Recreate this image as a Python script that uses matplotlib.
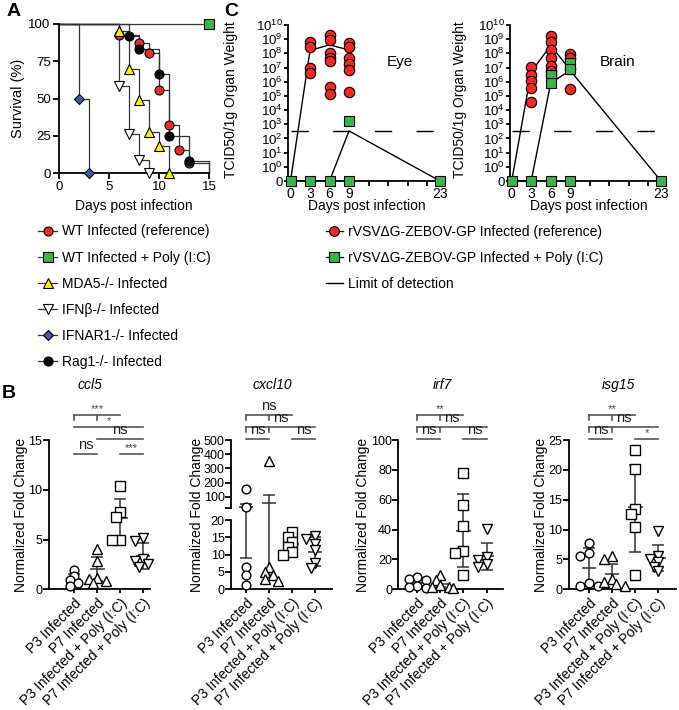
# Figure recreation: survival (A), chemokine qPCR (B), viral titres (C)
import numpy as np
import matplotlib
matplotlib.use("Agg")
import matplotlib.pyplot as plt
from matplotlib.lines import Line2D
from matplotlib.transforms import blended_transform_factory

plt.rcParams['font.family'] = ['Liberation Sans', 'DejaVu Sans']
plt.rcParams['mathtext.fontset'] = 'custom'
plt.rcParams['mathtext.rm'] = 'Liberation Sans'
plt.rcParams['mathtext.it'] = 'Liberation Sans:italic'
plt.rcParams['axes.linewidth'] = 1.3
plt.rcParams['xtick.major.width'] = 1.3
plt.rcParams['ytick.major.width'] = 1.3
plt.rcParams['xtick.major.size'] = 4
plt.rcParams['ytick.major.size'] = 4

# ---------------- A: survival ----------------
surv_labels = ['WT Infected (reference)', 'WT Infected + Poly (I:C)', 'MDA5-/- Infected',
               'IFN\u03b2-/- Infected', 'IFNAR1-/- Infected', 'Rag1-/- Infected']
wt_days = [6, 8, 9, 10, 11, 12, 13]
wt_surv = [92.9, 87.5, 80.4, 55.4, 32.4, 15.6, 6.7]
polyic_days = [15]
polyic_surv = [100]
mda5_days = [6, 7, 8, 9, 10, 11]
mda5_surv = [95.5, 70, 49, 27.5, 18, 0]
ifnb_days = [6, 7, 8, 9]
ifnb_surv = [58.5, 26, 9, 0]
ifnar_days = [2, 3]
ifnar_surv = [50, 0]
rag1_days = [7, 8, 10, 11, 13]
rag1_surv = [92, 83.3, 66.7, 25, 8.3]

# ---------------- C: titres (TCID50 / g), 0 = below detection ----------------
titre_days = [0, 3, 6, 9, 23]
eye_ref = {3: [6.3e8, 2.7e8, 1.0e7, 4.3e6],
           6: [1.9e9, 9.0e8, 1.0e8, 4.6e7, 3.0e7, 4.0e5, 1.3e5],
           9: [5.6e8, 2.7e8, 4.6e7, 1.7e7, 6.6e6, 1.8e5]}
eye_ref_line = [0, 1.6e8, 4.0e8, 1.7e8]
eye_pic = {0: [0], 3: [0], 6: [0], 9: [1.6e3, 0], 23: [0]}
eye_pic_line = [0, 0, 0, 3.4e2, 0]
brain_ref = {3: [1.15e7, 2.9e6, 1.05e6, 3.9e5, 3.8e4],
             6: [1.6e9, 6.3e8, 1.6e8, 4.6e7, 1.26e7, 5.6e6, 2.9e6],
             9: [8.9e7, 4.6e7, 7.4e6, 3.2e5]}
brain_ref_line = [0, 5.0e6, 3.5e8, 7.0e6]
brain_pic = {0: [0], 3: [0], 6: [2.9e6, 8.0e5, 0], 9: [2.0e7, 7.4e6, 0], 23: [0]}
brain_pic_line = [0, 0, 8.0e5, 6.3e6, 0]
limit_of_detection = 3.2e2

# ---------------- B: normalized fold change ----------------
b_groups = ['P3 Infected', 'P7 Infected', 'P3 Infected + Poly (I:C)', 'P7 Infected + Poly (I:C)']
ccl5 = [[1.9, 1.3, 0.9, 0.6, 0.3], [4.0, 2.8, 1.1, 1.0, 0.8, 0.6],
        [10.4, 7.8, 7.3, 4.95, 4.95], [5.2, 4.9, 3.0, 2.8, 2.5, 2.2]]
ccl5_mean = [1.0, 2.0, 7.2, 3.35]
ccl5_lo = [0.5, 0.8, 5.3, 2.0]
ccl5_hi = [1.5, 3.2, 9.1, 4.7]
cxcl10 = [[153, 31, 6.5, 4.0, 1.3], [352, 6.5, 5.0, 4.0, 3.0, 2.5],
          [16.5, 15.2, 13.7, 12.3, 10.8, 10.0], [15.5, 14.5, 13.0, 11.3, 7.7, 6.1]]
cxcl10_mean = [31, 60, 13.0, 10.8]
cxcl10_lo = [9.0, 4.0, 10.8, 6.8]
cxcl10_hi = [50, 115, 15.3, 15.0]
irf7 = [[8.0, 7.0, 6.5, 2.0, 1.5, 0.8], [9.5, 6.0, 3.0, 1.8, 1.5, 1.0],
        [77.7, 56.5, 42.4, 25.9, 24.1, 9.6], [40.2, 21.8, 19.6, 17.0, 15.1]]
irf7_mean = [4.0, 3.5, 39.0, 22.3]
irf7_lo = [2.0, 1.5, 15.0, 13.0]
irf7_hi = [6.0, 6.0, 63.5, 31.2]
isg15 = [[7.7, 6.0, 5.6, 1.0, 0.6, 0.5], [5.5, 5.0, 1.8, 1.2, 0.9, 0.6],
         [23.3, 20.2, 13.4, 12.6, 10.4, 2.4], [9.8, 5.5, 5.0, 4.5, 3.8, 3.0]]
isg15_mean = [3.5, 2.5, 13.7, 5.2]
isg15_lo = [0.5, 0.9, 6.3, 3.0]
isg15_hi = [6.9, 4.2, 20.8, 7.5]
# significance: (group i, group j, level, label, small down-ticks)
ccl5_sig = [(0, 2, 0, '***', True), (0, 3, 1, '*', False), (1, 3, 2, 'ns', False),
            (0, 1, 3, 'ns', False), (2, 3, 3, '***', False)]
cxcl10_sig = [(0, 2, 0, 'ns', True), (0, 3, 1, 'ns', True), (0, 1, 2, 'ns', False), (2, 3, 2, 'ns', False)]
irf7_sig = [(0, 2, 0, '**', True), (0, 3, 1, 'ns', True), (0, 1, 2, 'ns', False), (2, 3, 2, 'ns', False)]
isg15_sig = [(0, 2, 0, '**', True), (0, 3, 1, 'ns', True), (0, 1, 2, 'ns', False), (2, 3, 2, '*', False)]

RED, GREEN, YELLOW, BLUE = '#EE2A24', '#3AB54A', '#FFF200', '#3B5BA9'
LINE = '#333333'
W, H = 679, 710
fig = plt.figure(figsize=(W / 100, H / 100), dpi=100)


def px_axes(l, t, r, b):
    ax = fig.add_axes([l / W, 1 - b / H, (r - l) / W, (b - t) / H])
    ax.spines[['top', 'right']].set_visible(False)
    ax.patch.set_alpha(0)
    return ax


def ftext(x, y, s, **kw):
    fig.text(x / W, 1 - y / H, s, **kw)


# ================= Panel A =================
axA = px_axes(59, 24, 209, 173)
km = [(wt_days, wt_surv, 'o', RED, 6.5, True),
      (polyic_days, polyic_surv, 's', GREEN, 6.5, False),
      (mda5_days, mda5_surv, '^', YELLOW, 7, False),
      (ifnb_days, ifnb_surv, 'v', 'white', 7, False),
      (ifnar_days, ifnar_surv, 'D', BLUE, 5, False),
      (rag1_days, rag1_surv, 'o', 'black', 6.5, True)]
handlesA = []
for days, surv, mk, col, ms, drop_end in km:
    xs = [0] + list(days)
    ys = [100] + list(surv)
    if drop_end:
        xs, ys = xs + [15], ys + [0]
    axA.plot(xs, ys, drawstyle='steps-post', color=LINE, lw=0.9, zorder=2, clip_on=False)
    axA.plot(days, surv, ls='none', marker=mk, ms=ms, mfc=col, mec='black', mew=0.8,
             zorder=4, clip_on=False)
    handlesA.append(Line2D([], [], color=LINE, lw=0.9, marker=mk, ms=ms, mfc=col,
                           mec='black', mew=0.8))
axA.set_xlim(0, 15)
axA.set_ylim(0, 100)
axA.set_xticks([0, 5, 10, 15])
axA.set_yticks([0, 25, 50, 75, 100])
axA.tick_params(labelsize=9.5, pad=2)
ftext(18, 98, 'Survival (%)', rotation=90, ha='center', va='center', fontsize=10.5)
ftext(134, 206, 'Days post infection', ha='center', va='center', fontsize=10)
ftext(14, 12, 'A', fontsize=14, fontweight='bold', ha='center', va='center')
fig.legend(handlesA, surv_labels, loc='upper left', bbox_to_anchor=(38 / W, 1 - 224.5 / H),
           frameon=False, fontsize=10, handlelength=1.4, handletextpad=0.3,
           labelspacing=0.87, borderpad=0, borderaxespad=0)


# ================= Panel C =================
def titre_fwd(v):
    v = np.asarray(v, dtype=float)
    return np.where(v > 0, np.log10(np.where(v > 0, v, 1.0)), -1.0)


def titre_inv(y):
    return 10.0 ** np.asarray(y, dtype=float)


def titre_panel(l, r, ref, ref_line, pic, pic_line, name, name_x, ylab_x):
    ax = px_axes(l, 25, r, 181)
    ax.set_yscale('function', functions=(titre_fwd, titre_inv))
    left_day = -(2.5 if l < 400 else 1.7) / 6.49
    ax.set_xlim(left_day, 23)
    ax.set_ylim(10 ** -1.3, 1e10)
    ax.plot(titre_days[:len(ref_line)], ref_line, color='black', lw=1, zorder=2)
    ax.plot(titre_days, pic_line, color='black', lw=1, zorder=2)
    ax.plot([0, 23], [limit_of_detection] * 2, color='black', lw=1,
            dashes=(12.5, 17.5), zorder=1)
    for d, vals in ref.items():
        ax.plot([d] * len(vals), vals, ls='none', marker='o', ms=7.5, mfc=RED,
                mec='black', mew=0.8, zorder=3, clip_on=False)
    for d, vals in pic.items():
        ax.plot([d] * len(vals), vals, ls='none', marker='s', ms=7, mfc=GREEN,
                mec='black', mew=0.8, zorder=4, clip_on=False)
    yt = [0] + [10 ** k for k in range(11)]
    ax.set_yticks(yt)
    ax.set_yticklabels(['0'] + ['$10^{%d}$' % k for k in range(11)])
    ax.yaxis.set_minor_locator(matplotlib.ticker.NullLocator())
    ax.set_xticks([0, 3, 6, 9, 12, 15, 18, 21, 23])
    ax.set_xticklabels(['0', '3', '6', '9', '', '', '', '', '23'])
    ax.tick_params(axis='y', labelsize=9.5, pad=1, length=3)
    ax.tick_params(axis='x', labelsize=10, pad=0.5, length=3.5)
    ftext(name_x, 62, name, fontsize=11, ha='center', va='center')
    ftext(ylab_x, 100, 'TCID50/1g Organ Weight', rotation=90, ha='center', va='center',
          fontsize=10)
    ftext((l + r) / 2 + 3, 206.5, 'Days post infection', ha='center', va='center', fontsize=10)
    return ax


titre_panel(288, 440, eye_ref, eye_ref_line, eye_pic, eye_pic_line, 'Eye', 400, 231)
titre_panel(510, 661, brain_ref, brain_ref_line, brain_pic, brain_pic_line, 'Brain', 618, 460)
ftext(231, 12, 'C', fontsize=14, fontweight='bold', ha='center', va='center')

handlesC = [Line2D([], [], color='black', lw=0.9, marker='o', ms=7, mfc=RED, mec='black', mew=0.8),
            Line2D([], [], color='black', lw=0.9, marker='s', ms=6.5, mfc=GREEN, mec='black', mew=0.8),
            Line2D([], [], color='black', lw=1)]
fig.legend(handlesC, ['rVSV\u0394G-ZEBOV-GP Infected (reference)',
                      'rVSV\u0394G-ZEBOV-GP Infected + Poly (I:C)', 'Limit of detection'],
           loc='upper left', bbox_to_anchor=(326 / W, 1 - 225 / H), frameon=False,
           fontsize=10, handlelength=1.2, handletextpad=0.4, labelspacing=0.87,
           borderpad=0, borderaxespad=0)


# ================= Panel B =================
def swarm_x(ax, xc, vals, diam):
    # push overlapping points sideways, like Prism's scatter
    placed, out = [], []
    for v in vals:
        x0, y0 = ax.transData.transform((xc, v))
        for k in [0, -1, 1, -2, 2, -3, 3]:
            xp = x0 + k * diam * 0.45
            if all(np.hypot(xp - a, y0 - b) >= diam * 0.6 for a, b in placed):
                break
        placed.append((xp, y0))
        out.append(ax.transData.inverted().transform((xp, y0))[0])
    return out


LEVELS_PX = [414.5, 426.5, 438.5, 453.5]
B_TOP, B_BOT = 440, 589.3
SIG = '#555555'
b_markers = [('o', 6.3), ('^', 7), ('s', 6.8), ('v', 7)]


def fold_panel(l, r, xlim, data, mean, lo, hi, ylim, title, title_x, sig, scale=None,
               ylab_dx=28):
    ax = px_axes(l, B_TOP, r, B_BOT)
    if scale is not None:
        ax.set_yscale('function', functions=scale)
    ax.set_xlim(*xlim)
    ax.set_ylim(*ylim)
    pos = np.arange(len(b_groups))
    for i, vals in enumerate(data):
        mk, ms = b_markers[i]
        xs = swarm_x(ax, pos[i], vals, 9.5)
        ax.plot(xs, vals, ls='none', marker=mk, ms=ms, mfc='white', mec='black',
                mew=1, zorder=4, clip_on=False)
    ax.hlines(mean, pos - 0.32, pos + 0.32, color=LINE, lw=1.1, zorder=3)
    ax.errorbar(pos, mean, yerr=[np.subtract(mean, lo), np.subtract(hi, mean)],
                fmt='none', ecolor=LINE, elinewidth=1.1, capsize=4, capthick=1.1, zorder=3)
    ax.set_xticks(pos)
    ax.set_xticklabels(b_groups, rotation=45, ha='right', rotation_mode='anchor',
                       fontsize=10)
    ax.tick_params(axis='x', length=3, pad=2)
    ax.tick_params(axis='y', labelsize=9, pad=1)
    tr = blended_transform_factory(ax.transData, ax.transAxes)
    for i, j, lev, lab, ticks in sig:
        yf = (B_BOT - LEVELS_PX[lev]) / (B_BOT - B_TOP)
        ax.plot([pos[i], pos[j]], [yf, yf], color=SIG, lw=1.2, transform=tr, clip_on=False)
        if ticks:
            tk = 5 / (B_BOT - B_TOP)
            for x in (pos[0], pos[1]):
                ax.plot([x, x], [yf, yf - tk], color=SIG, lw=1.2, transform=tr, clip_on=False)
        xm = (pos[i] + pos[j]) / 2
        if lab.startswith('*'):
            ax.text(xm, yf + 0.5 / (B_BOT - B_TOP), lab, transform=tr, ha='center',
                    va='bottom', fontsize=8, color='#444444')
        else:
            ax.text(xm, yf + 1.5 / (B_BOT - B_TOP), lab, transform=tr, ha='center',
                    va='bottom', fontsize=10.5, color='#222222')
    ftext(title_x, 385, title, fontsize=10, style='italic', ha='center', va='center')
    ftext(l - ylab_dx, 515, 'Normalized Fold Change', rotation=90,
          ha='center', va='center', fontsize=10)
    return ax


ax_ccl5 = fold_panel(49.3, 150, (-1.07, 3.29), ccl5, ccl5_mean, ccl5_lo, ccl5_hi,
                     (0, 15), 'ccl5', 90, ccl5_sig)
ax_ccl5.set_yticks([0, 5, 10, 15])

# cxcl10: segmented axis, 0-20 then 20-500 compressed
SEG, GAP, K = 20.0, 3.38, 0.04107


def seg_fwd(v):
    v = np.asarray(v, dtype=float)
    return np.where(v <= SEG, v, SEG + GAP + (v - SEG) * K)


def seg_inv(y):
    y = np.asarray(y, dtype=float)
    return np.where(y <= SEG, y, np.where(y < SEG + GAP, SEG, SEG + (y - SEG - GAP) / K))


ax_cx = fold_panel(231, 332, (-0.65, 3.74), cxcl10, cxcl10_mean, cxcl10_lo, cxcl10_hi,
                   (0, 500), 'cxcl10', 272, cxcl10_sig, scale=(seg_fwd, seg_inv), ylab_dx=34)
ax_cx.set_yticks([0, 5, 10, 15, 20, 20.01, 100, 200, 300, 400, 500])
ax_cx.set_yticklabels(['0', '5', '10', '15', '20', '', '100', '200', '300', '400', '500'])
ax_cx.tick_params(axis='y', pad=0.5)
ax_cx.yaxis.set_minor_locator(matplotlib.ticker.NullLocator())
ax_cx.spines['left'].set_visible(False)
ytr = ax_cx.get_yaxis_transform()
ax_cx.plot([0, 0], [0, SEG], color='black', lw=1.3, transform=ytr, clip_on=False)
ax_cx.plot([0, 0], [SEG + 0.01, 500], color='black', lw=1.3, transform=ytr, clip_on=False)

ax_irf = fold_panel(398.3, 503, (-0.82, 3.71), irf7, irf7_mean, irf7_lo, irf7_hi,
                    (0, 100), 'irf7', 442, irf7_sig, ylab_dx=35)
ax_irf.set_yticks([0, 20, 40, 60, 80, 100])
ax_irf.tick_params(axis='y', pad=0.5)
ax_isg = fold_panel(569.3, 675.7, (-0.85, 3.75), isg15, isg15_mean, isg15_lo, isg15_hi,
                    (0, 25), 'isg15', 618, isg15_sig)
ax_isg.set_yticks([0, 5, 10, 15, 20, 25])
ftext(9, 393, 'B', fontsize=14, fontweight='bold', ha='center', va='center')

fig.savefig('out.png', dpi=100)
